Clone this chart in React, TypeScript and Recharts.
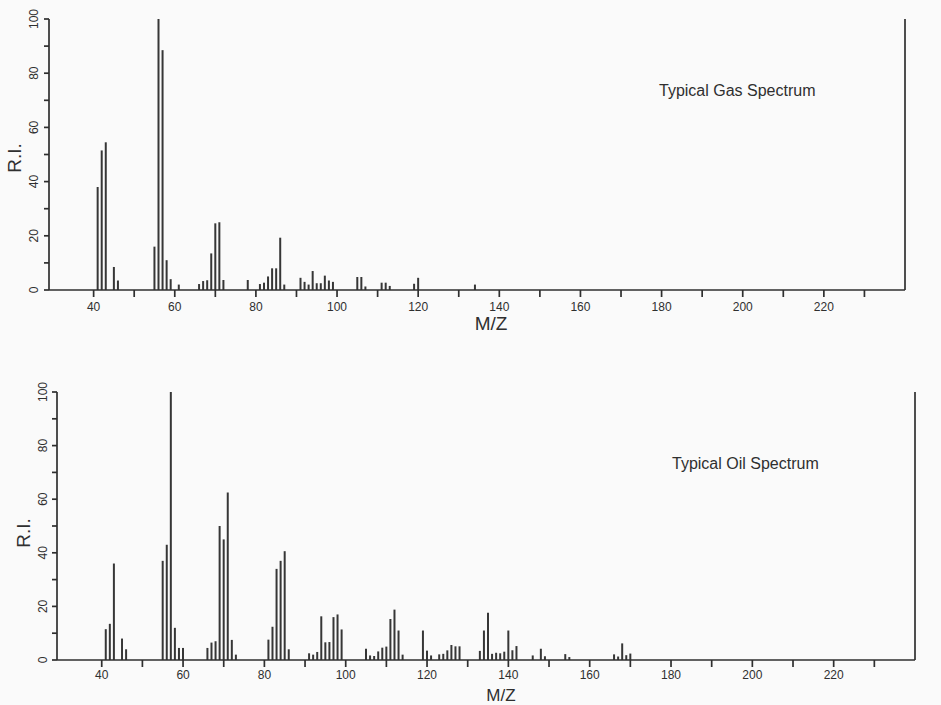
import { BarChart, Bar, XAxis, YAxis } from "recharts";

// gas sample: m/z and relative intensity
const gasMz = [
  41, 42, 43, 45, 46, 55, 56, 57, 58, 59, 61, 66, 67, 68, 69, 70, 71, 72, 78,
  81, 82, 83, 84, 85, 86, 87, 91, 92, 93, 94, 95, 96, 97, 98, 99, 105, 106,
  107, 111, 112, 113, 119, 120, 134,
];
const gasRi = [
  38, 51.5, 54.5, 8.5, 3.5, 16, 100, 88.5, 11, 4, 2, 2.2, 3.3, 3.6, 13.5, 24.6,
  25, 3.7, 3.7, 2.2, 2.7, 5, 8, 8, 19.3, 2, 4.5, 3, 2, 7, 2.5, 2.5, 5.3, 3.5, 3,
  4.8, 4.8, 1.3, 2.7, 2.7, 1.5, 2.3, 4.5, 2,
];

// oil sample: m/z and relative intensity
const oilMz = [
  41, 42, 43, 45, 46, 55, 56, 57, 58, 59, 60, 66, 67, 68, 69, 70, 71, 72, 73,
  81, 82, 83, 84, 85, 86, 91, 92, 93, 94, 95, 96, 97, 98, 99, 105, 106, 107,
  108, 109, 110, 111, 112, 113, 114, 119, 120, 121, 123, 124, 125, 126, 127,
  128, 133, 134, 135, 136, 137, 138, 139, 140, 141, 142, 146, 148, 149, 154,
  155, 166, 167, 168, 169, 170,
];
const oilRi = [
  11.5, 13.5, 36, 8, 4, 37, 43, 100, 12, 4.5, 4.5, 4.5, 6.5, 7, 50, 45, 62.5,
  7.5, 2, 7.6, 12.4, 34, 37, 40.6, 4, 2.5, 2, 3, 16.3, 6.6, 6.7, 16, 17, 11.4,
  4.2, 1.7, 1.5, 3.2, 4.6, 5, 15.3, 18.8, 11, 2, 11, 3.5, 1.7, 2.1, 2.3, 3.6,
  5.6, 5.1, 5.1, 3.4, 11, 17.6, 2.3, 2.7, 2.5, 3.1, 11, 3.6, 5.2, 1.7, 4.2, 1.4,
  2.2, 1.1, 2.1, 1.3, 6.2, 1.8, 2.4,
];

const xTicks = [40, 50, 60, 70, 80, 90, 100, 110, 120, 130, 140, 150, 160, 170, 180, 190, 200, 210, 220, 230];
const yTicks = [0, 10, 20, 30, 40, 50, 60, 70, 80, 90, 100];

const FONT = "'Liberation Sans', Arial, Helvetica, sans-serif";
const INK = "#2f2f2f";

const toRows = (mz: number[], ri: number[]) => mz.map((m, i) => ({ mz: m, ri: ri[i] }));

function SideTick(props: any) {
  const { x, y, payload, shift } = props;
  if (payload.value % 20 !== 0) return <g />;
  return (
    <text
      x={0}
      y={0}
      dy="0.35em"
      textAnchor="middle"
      transform={`translate(${x + shift},${y}) rotate(-90)`}
      fontSize={12}
      fontFamily={FONT}
      fill={INK}
    >
      {payload.value}
    </text>
  );
}

type SpectrumProps = {
  mz: number[];
  ri: number[];
  top: number;
  height: number;
  margin: { top: number; right: number; bottom: number; left: number };
  rightWidth: number;
  leftShift: number;
  rightShift: number;
  tickGap: number;
};

function Spectrum({ mz, ri, top, height, margin, rightWidth, leftShift, rightShift, tickGap }: SpectrumProps) {
  const axisStyle = { stroke: INK, strokeWidth: 1.7 };
  return (
    <div style={{ position: "absolute", left: 0, top, width: 941, height }}>
      <BarChart width={941} height={height} data={toRows(mz, ri)} margin={margin}>
        <XAxis
          dataKey="mz"
          type="number"
          scale="linear"
          domain={[29, 240]}
          ticks={xTicks}
          interval={0}
          height={30}
          tickSize={7}
          tickMargin={tickGap}
          axisLine={axisStyle}
          tickLine={axisStyle}
          tickFormatter={(v: number) => (v % 20 === 0 ? String(v) : "")}
          tick={{ fontSize: 12, fontFamily: FONT, fill: INK }}
        />
        <YAxis
          yAxisId="l"
          orientation="left"
          width={40}
          domain={[0, 100]}
          ticks={yTicks}
          interval={0}
          tickSize={5}
          axisLine={axisStyle}
          tickLine={axisStyle}
          tick={(p: any) => <SideTick {...p} shift={leftShift} />}
        />
        <YAxis
          yAxisId="r"
          orientation="right"
          width={rightWidth}
          domain={[0, 100]}
          ticks={yTicks}
          interval={0}
          tickSize={5}
          axisLine={axisStyle}
          tickLine={axisStyle}
          tick={(p: any) => <SideTick {...p} shift={rightShift} />}
        />
        <Bar yAxisId="l" dataKey="ri" fill="#363636" barSize={2} isAnimationActive={false} />
      </BarChart>
    </div>
  );
}

export default function App() {
  const label = { fontFamily: FONT, fill: INK };
  return (
    <div
      style={{
        position: "absolute",
        left: 0,
        top: 0,
        width: 941,
        height: 705,
        background: "#fafafa",
        overflow: "hidden",
      }}
    >
      <Spectrum
        mz={gasMz}
        ri={gasRi}
        top={0}
        height={330}
        margin={{ top: 19, right: 0, bottom: 10, left: 9 }}
        rightWidth={36}
        leftShift={-8.5}
        rightShift={18}
        tickGap={5}
      />
      <Spectrum
        mz={oilMz}
        ri={oilRi}
        top={360}
        height={345}
        margin={{ top: 32, right: 0, bottom: 15, left: 17 }}
        rightWidth={26}
        leftShift={-7}
        rightShift={3}
        tickGap={3}
      />
      <svg width={941} height={705} style={{ position: "absolute", left: 0, top: 0, pointerEvents: "none" }}>
        <text x={659} y={96} fontSize={16} {...label}>Typical Gas Spectrum</text>
        <text x={672} y={469} fontSize={16} {...label}>Typical Oil Spectrum</text>
        <text x={0} y={0} dy="0.35em" textAnchor="middle" fontSize={19} transform="translate(14,158) rotate(-90)" {...label}>R.I.</text>
        <text x={0} y={0} dy="0.35em" textAnchor="middle" fontSize={19} transform="translate(23,533) rotate(-90)" {...label}>R.I.</text>
        <text x={491} y={323} dy="0.35em" textAnchor="middle" fontSize={19} {...label}>M/Z</text>
        <text x={501} y={695} dy="0.35em" textAnchor="middle" fontSize={17} {...label}>M/Z</text>
      </svg>
    </div>
  );
}
